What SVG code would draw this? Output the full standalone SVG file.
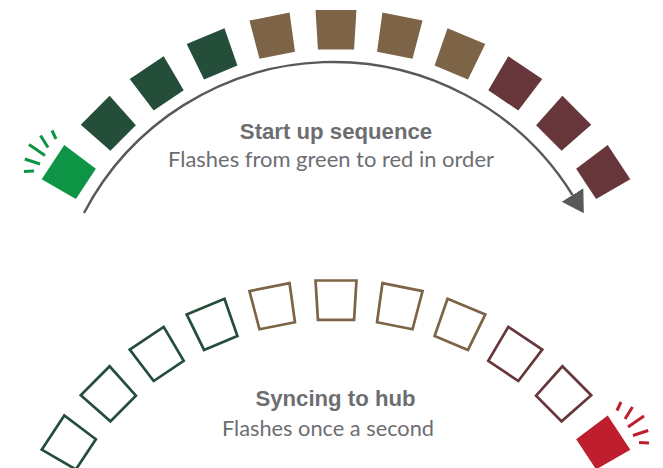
<svg xmlns="http://www.w3.org/2000/svg" xmlns:xlink="http://www.w3.org/1999/xlink" width="663" height="468" viewBox="0 0 663 468">
<style>
.bg{fill:#ffffff}
.lit-g{fill:#0E9445}
.dg{fill:#244E39}
.br{fill:#7D6446}
.mr{fill:#66363A}
.lit-r{fill:#BE1E2D}
.o{fill:none;stroke-width:2.7;stroke-linejoin:miter}
.odg{stroke:#244E39}
.obr{stroke:#7D6446}
.omr{stroke:#66363A}
.ray{fill:none;stroke-width:3;stroke-linecap:butt}
.rg{stroke:#0E9445}
.rr{stroke:#BE1E2D}
.conn{fill:none;stroke:#58595B;stroke-width:2.4}
.title{font-family:"Liberation Sans",Arial,sans-serif;font-weight:bold;font-size:22.2px;fill:#6D6E71;text-anchor:middle}
.sub{font-family:Lato,"Liberation Sans",sans-serif;font-size:21px;fill:#6D6E71;text-anchor:middle}
</style>
<defs>
<polygon id="tile" points="-20.46,-339.38 20.46,-339.38 18.08,-299.96 -18.08,-299.96"/>
<marker id="ah" markerUnits="userSpaceOnUse" markerWidth="24" markerHeight="28" viewBox="0 -14 24 28" refX="0" refY="0" orient="auto">
<path d="M0,-12.7 L21.5,0 L0,12.7Z" fill="#58595B"/>
</marker>
</defs>
<rect class="bg" x="0" y="0" width="663" height="468"/>

<g id="connectors">
<path id="seq-arrow" class="conn" d="M84,213 A281.4,281.4 0 0 1 572.5,195" marker-end="url(#ah)"/>
</g>

<g id="top-row">
<g id="t1"><use xlink:href="#tile" href="#tile" class="lit-g" transform="translate(336 349.4) rotate(-56.5)"/>
<g id="t1-rays">
<line class="ray rg" x1="52" y1="130.5" x2="56" y2="139"/>
<line class="ray rg" x1="40.5" y1="135.5" x2="48" y2="147.5"/>
<line class="ray rg" x1="29" y1="144.5" x2="45" y2="155.5"/>
<line class="ray rg" x1="24.8" y1="159" x2="40" y2="164"/>
<line class="ray rg" x1="24" y1="171.5" x2="34" y2="171"/>
</g></g>
<g id="t2"><use xlink:href="#tile" href="#tile" class="dg" transform="translate(336 349.4) rotate(-45.2)"/></g>
<g id="t3"><use xlink:href="#tile" href="#tile" class="dg" transform="translate(336 349.4) rotate(-33.9)"/></g>
<g id="t4"><use xlink:href="#tile" href="#tile" class="dg" transform="translate(336 349.4) rotate(-22.6)"/></g>
<g id="t5"><use xlink:href="#tile" href="#tile" class="br" transform="translate(336 349.4) rotate(-11.3)"/></g>
<g id="t6"><use xlink:href="#tile" href="#tile" class="br" transform="translate(336 349.4) rotate(0)"/></g>
<g id="t7"><use xlink:href="#tile" href="#tile" class="br" transform="translate(336 349.4) rotate(11.3)"/></g>
<g id="t8"><use xlink:href="#tile" href="#tile" class="br" transform="translate(336 349.4) rotate(22.6)"/></g>
<g id="t9"><use xlink:href="#tile" href="#tile" class="mr" transform="translate(336 349.4) rotate(33.9)"/></g>
<g id="t10"><use xlink:href="#tile" href="#tile" class="mr" transform="translate(336 349.4) rotate(45.2)"/></g>
<g id="t11"><use xlink:href="#tile" href="#tile" class="mr" transform="translate(336 349.4) rotate(56.5)"/></g>
</g>

<g id="top-label">
<text class="title" x="336" y="138.5">Start up sequence</text>
<text class="sub" x="331" y="166.5" textLength="326" lengthAdjust="spacingAndGlyphs">Flashes from green to red in order</text>
</g>

<g id="bottom-row">
<g id="b1"><use xlink:href="#tile" href="#tile" class="o odg" transform="translate(336 619.9) rotate(-56.5)"/></g>
<g id="b2"><use xlink:href="#tile" href="#tile" class="o odg" transform="translate(336 619.9) rotate(-45.2)"/></g>
<g id="b3"><use xlink:href="#tile" href="#tile" class="o odg" transform="translate(336 619.9) rotate(-33.9)"/></g>
<g id="b4"><use xlink:href="#tile" href="#tile" class="o odg" transform="translate(336 619.9) rotate(-22.6)"/></g>
<g id="b5"><use xlink:href="#tile" href="#tile" class="o obr" transform="translate(336 619.9) rotate(-11.3)"/></g>
<g id="b6"><use xlink:href="#tile" href="#tile" class="o obr" transform="translate(336 619.9) rotate(0)"/></g>
<g id="b7"><use xlink:href="#tile" href="#tile" class="o obr" transform="translate(336 619.9) rotate(11.3)"/></g>
<g id="b8"><use xlink:href="#tile" href="#tile" class="o obr" transform="translate(336 619.9) rotate(22.6)"/></g>
<g id="b9"><use xlink:href="#tile" href="#tile" class="o omr" transform="translate(336 619.9) rotate(33.9)"/></g>
<g id="b10"><use xlink:href="#tile" href="#tile" class="o omr" transform="translate(336 619.9) rotate(45.2)"/></g>
<g id="b11"><use xlink:href="#tile" href="#tile" class="lit-r" transform="translate(336 619.9) rotate(56.5)"/>
<g id="b11-rays">
<line class="ray rr" x1="621" y1="402" x2="617" y2="410.5"/>
<line class="ray rr" x1="632.5" y1="407" x2="625" y2="419"/>
<line class="ray rr" x1="644" y1="416" x2="628" y2="427"/>
<line class="ray rr" x1="648.2" y1="430.5" x2="633" y2="435.5"/>
<line class="ray rr" x1="649" y1="443" x2="639" y2="442.5"/>
</g></g>
</g>

<g id="bottom-label">
<text class="title" x="335.5" y="406">Syncing to hub</text>
<text class="sub" x="328" y="436" textLength="212" lengthAdjust="spacingAndGlyphs">Flashes once a second</text>
</g>
</svg>
